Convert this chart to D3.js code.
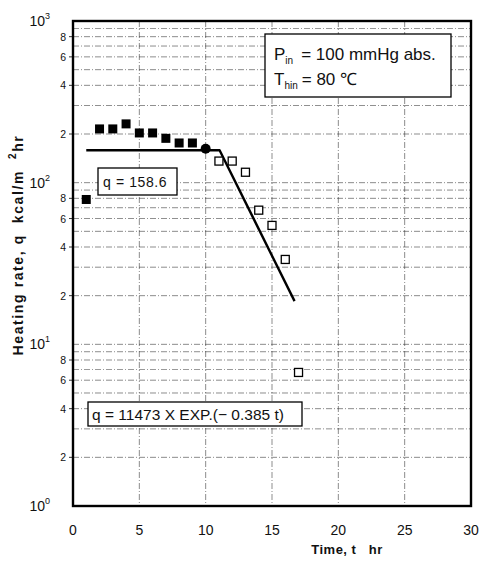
<!DOCTYPE html>
<html><head><meta charset="utf-8">
<script src="https://cdn.jsdelivr.net/npm/d3@7"></script>
<style>
body{margin:0;background:#fff;}
text{font-family:"Liberation Sans",Arial,sans-serif;fill:#111;white-space:pre;}
</style></head>
<body><svg id="c" width="479" height="568"></svg>
<script>
// Data
const phase1T = [1,2,3,4,5,6,7,8,9];
const phase1Q = [78.7,215,215,231,203,203,188,176,176];
const pointAt10 = {t:10, q:162};
const phase2T = [11,12,13,14,15,16,17];
const phase2Q = [136,136,116,67.6,54.4,33.5,6.7];
const fitLine = [[1,158.6],[11.05,158.6],[16.7,18.5]];
const xTicks = [0,5,10,15,20,25,30];
const yDecades = [1,10,100,1000];
const yMinorLabels = [2,4,6,8];

const svg = d3.select("#c");
const L=73, R=471, T=21, B=506;
const x = d3.scaleLinear().domain([0,30]).range([L,R]);
const y = d3.scaleLog().domain([1,1000]).range([B,T]);

// grid
const g = svg.append("g");
const minor = [];
for (let d=1; d<1000; d*=10) for (let k=1;k<=9;k++) if(!(d===1&&k===1)) minor.push(d*k);
g.selectAll(".hg").data(minor).join("line")
 .attr("x1",L).attr("x2",R).attr("y1",d=>y(d)).attr("y2",d=>y(d))
 .attr("stroke","#333").attr("stroke-width",0.7).attr("stroke-dasharray","6,2,1,2").attr("opacity",0.8);
g.selectAll(".vg").data(xTicks.slice(1,-1)).join("line")
 .attr("x1",d=>x(d)).attr("x2",d=>x(d)).attr("y1",T).attr("y2",B)
 .attr("stroke","#333").attr("stroke-width",0.7).attr("stroke-dasharray","6,2,1,2").attr("opacity",0.8);

// frame
svg.append("rect").attr("x",L).attr("y",T).attr("width",R-L).attr("height",B-T)
 .attr("fill","none").attr("stroke","#000").attr("stroke-width",2.4);

// x ticks labels
svg.selectAll(".xt").data(xTicks).join("text")
 .attr("x",d=>x(d)).attr("y",535).attr("text-anchor","middle").attr("font-size",14).text(d=>d);

// y decade labels
const dec = svg.selectAll(".yd").data(yDecades).join("text")
 .attr("x",50).attr("y",d=>y(d)+5).attr("text-anchor","end").attr("font-size",14);
dec.append("tspan").text("10");
dec.append("tspan").attr("dy",-7).attr("font-size",9).text(d=>Math.round(Math.log10(d)));
// minor labels
const minorLab = [];
[1,10,100].forEach(d=>yMinorLabels.forEach(k=>minorLab.push({v:d*k,k})));
svg.selectAll(".ym").data(minorLab).join("text")
 .attr("x",66).attr("y",d=>y(d.v)+4).attr("text-anchor","end").attr("font-size",10.5).text(d=>d.k);
svg.selectAll(".ymt").data(minorLab).join("line")
 .attr("x1",L-4).attr("x2",L).attr("y1",d=>y(d.v)).attr("y2",d=>y(d.v)).attr("stroke","#000").attr("stroke-width",0.8);

// fit line
svg.append("path").datum(fitLine)
 .attr("d",d3.line().x(d=>x(d[0])).y(d=>y(d[1])))
 .attr("fill","none").attr("stroke","#000").attr("stroke-width",2.4).attr("stroke-linejoin","round");

// points
const s=9;
svg.selectAll(".p1").data(phase1T.map((t,i)=>({t,q:phase1Q[i]}))).join("rect")
 .attr("x",d=>x(d.t)-s/2).attr("y",d=>y(d.q)-s/2).attr("width",s).attr("height",s).attr("fill","#000");
svg.append("circle").attr("cx",x(pointAt10.t)).attr("cy",y(pointAt10.q)).attr("r",5).attr("fill","#000");
svg.selectAll(".p2").data(phase2T.map((t,i)=>({t,q:phase2Q[i]}))).join("rect")
 .attr("x",d=>x(d.t)-4).attr("y",d=>y(d.q)-4).attr("width",8).attr("height",8)
 .attr("fill","#fff").attr("stroke","#000").attr("stroke-width",1.3);

// annotation boxes
function box(x0,y0,w,h){svg.append("rect").attr("x",x0).attr("y",y0).attr("width",w).attr("height",h).attr("fill","#fff").attr("stroke","#000").attr("stroke-width",1.3);}
box(98,168,79,27);
svg.append("text").attr("x",103).attr("y",187).attr("font-size",14).attr("letter-spacing",0.6).text("q = 158.6");
box(88,402,214,24);
svg.append("text").attr("x",92).attr("y",419.5).attr("font-size",15.5).attr("textLength",192).text("q = 11473 X EXP.(− 0.385 t)");
box(265,34,186,63);
const t1=svg.append("text").attr("x",274).attr("y",60).attr("font-size",17);
t1.append("tspan").text("P");
t1.append("tspan").attr("font-size",10).attr("dy",4).text("in");
t1.append("tspan").attr("dy",-4).attr("dx",8).text("= 100 mmHg abs.");
const t2=svg.append("text").attr("x",274).attr("y",85).attr("font-size",17);
t2.append("tspan").text("T");
t2.append("tspan").attr("font-size",10).attr("dy",4).text("hin");
t2.append("tspan").attr("dy",-4).attr("dx",4).text("= 80 ℃");

// axis titles
svg.append("text").attr("x",347).attr("y",554).attr("text-anchor","middle").attr("font-size",13).attr("font-weight","bold").attr("letter-spacing",0.5).text("Time, t   hr");
const yl=svg.append("text").attr("transform","translate(23,245) rotate(-90)").attr("text-anchor","middle").attr("font-size",14).attr("font-weight","bold").attr("letter-spacing",1.6);
yl.append("tspan").text("Heating rate, q  kcal/m  ");
yl.append("tspan").attr("dy",-7).attr("font-size",10).text("2");
yl.append("tspan").attr("dy",7).text("hr");
</script></body></html>
